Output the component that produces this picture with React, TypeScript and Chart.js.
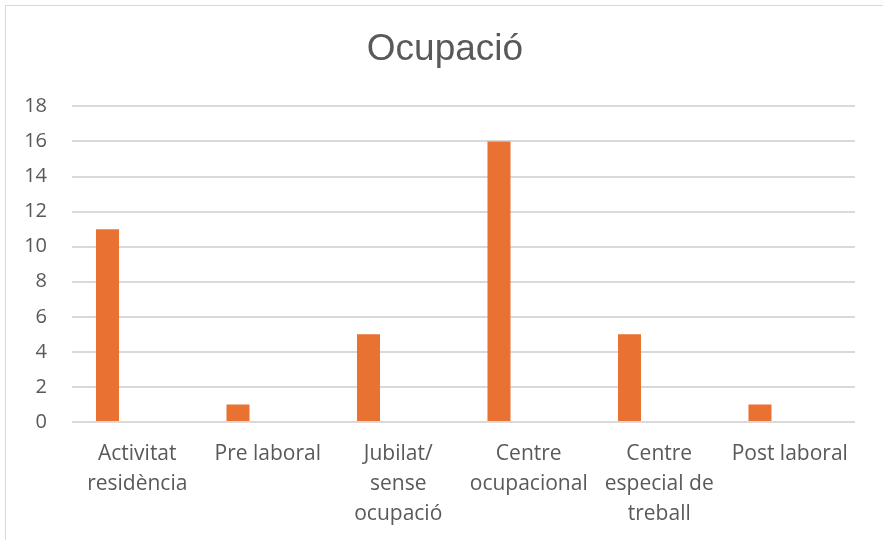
import React, { useEffect, useRef } from "react";
import { Chart, registerables } from "chart.js";

Chart.register(...registerables);

const categories: string[][] = [
  ["Activitat", "residència"],
  ["Pre laboral"],
  ["Jubilat/", "sense", "ocupació"],
  ["Centre", "ocupacional"],
  ["Centre", "especial de", "treball"],
  ["Post laboral"],
];
const values: number[] = [11, 1, 5, 16, 5, 1];
const emptySeries: (number | null)[] = [null, null, null, null, null, null];
const yMin = 0;
const yMax = 18;
const yStep = 2;
const title = "Ocupació";

const shiftTitle = {
  id: "shiftTitle",
  afterLayout(chart: any) {
    const tb = chart.titleBlock;
    if (tb) {
      tb.left = 35;
    }
  },
};

export default function App() {
  const ref = useRef<HTMLCanvasElement | null>(null);
  useEffect(() => {
    if (!ref.current) return;
    const padLeft = 8;
    const chart = new Chart(ref.current, {
      type: "bar",
      data: {
        labels: categories,
        datasets: [
          {
            label: "Ocupació",
            data: values,
            backgroundColor: "#E97132",
            borderWidth: 0,
            categoryPercentage: 0.912,
            barPercentage: 0.387,
          },
          {
            label: "",
            data: emptySeries,
            backgroundColor: "#A5A5A5",
            borderWidth: 0,
            categoryPercentage: 0.912,
            barPercentage: 0.387,
          },
        ],
      },
      plugins: [shiftTitle],
      options: {
        responsive: false,
        animation: false,
        devicePixelRatio: 1,
        layout: { padding: { left: padLeft, right: 28, top: 0, bottom: 0 } },
        plugins: {
          legend: { display: false },
          tooltip: { enabled: false },
          title: {
            display: true,
            text: title,
            color: "#595959",
            font: { family: "'Liberation Sans', Arial, sans-serif", size: 37, weight: "normal" },
            padding: { top: 28, bottom: 34 },
          },
        },
        scales: {
          x: {
            grid: { display: false },
            border: { display: false },
            ticks: {
              color: "#595959",
              font: { family: "'Open Sans', sans-serif", size: 21, lineHeight: 1.43 },
              padding: 9,
              maxRotation: 0,
              autoSkip: false,
            },
            afterFit: (scale: any) => {
              scale.height = 118;
            },
          },
          y: {
            min: yMin,
            max: yMax,
            grid: { color: "#d9d9d9", lineWidth: 2, drawTicks: false },
            border: { display: false },
            ticks: {
              stepSize: yStep,
              color: "#595959",
              font: { family: "'Open Sans', sans-serif", size: 20 },
              padding: 25,
            },
            afterFit: (scale: any) => {
              scale.width = 72 - padLeft;
            },
          },
        },
      },
    });
    return () => chart.destroy();
  }, []);
  return (
    <div style={{ position: "fixed", left: 0, top: 0, width: 883, height: 540, background: "#fff", overflow: "hidden" }}>
      <div
        style={{
          position: "absolute",
          left: 5,
          top: 5,
          width: 1000,
          height: 1000,
          border: "1px solid #d9d9d9",
        }}
      />
      <canvas ref={ref} width={883} height={540} style={{ position: "absolute", left: 0, top: 0, width: 883, height: 540 }} />
    </div>
  );
}
